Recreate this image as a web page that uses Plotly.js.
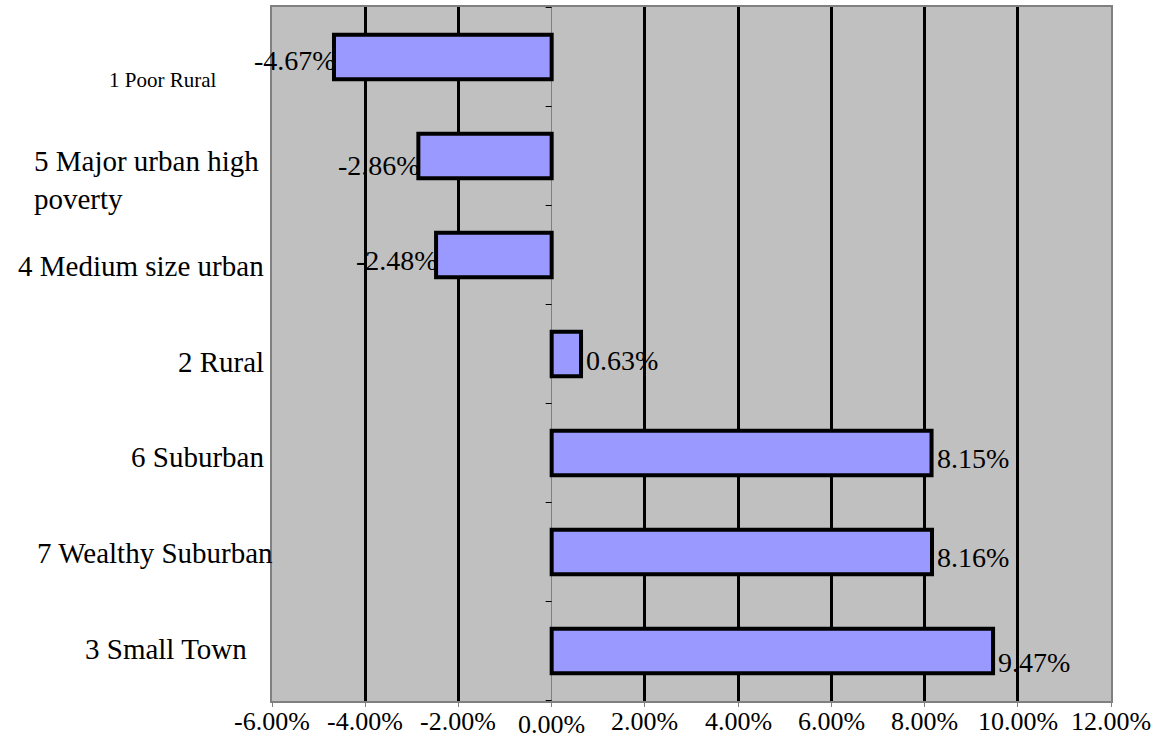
<!DOCTYPE html>
<html>
<head>
<meta charset="utf-8">
<script src="https://cdn.plot.ly/plotly-3.0.1.min.js"></script>
<style>
  html, body { margin: 0; padding: 0; background: #ffffff; }
  #chart { width: 1153px; height: 738px; }
</style>
</head>
<body>
<div id="chart"></div>
<script>
// Change by district type, in percent (top to bottom)
const categories = [
  "1 Poor Rural",
  "5 Major urban high poverty",
  "4 Medium size urban",
  "2 Rural",
  "6 Suburban",
  "7 Wealthy Suburban",
  "3 Small Town"
];
const changePct = [-4.67, -2.86, -2.48, 0.63, 8.15, 8.16, 9.47];
const dataLabels = ["-4.67%", "-2.86%", "-2.48%", "0.63%", "8.15%", "8.16%", "9.47%"];

const tickValues = [-6, -4, -2, 0, 2, 4, 6, 8, 10, 12];
const tickLabels = ["-6.00%", "-4.00%", "-2.00%", "0.00%", "2.00%", "4.00%", "6.00%", "8.00%", "10.00%", "12.00%"];

// Placement of the category names left of the plot
const catLabelStyle = [
  { size: 21, anchor: "right", xshift: -54, yshift: -23 },
  { size: 29, anchor: "left",  xshift: -240, yshift: -24 },
  { size: 29, anchor: "right", xshift: -6,  yshift: -11 },
  { size: 29, anchor: "right", xshift: -6,  yshift: -8 },
  { size: 29, anchor: "right", xshift: -6,  yshift: -4 },
  { size: 29, anchor: "right", xshift: 3,   yshift: -1 },
  { size: 29, anchor: "right", xshift: -23, yshift: 2 }
];
// Vertical nudge of each value label
const valueLabelYShift = [-3, -9, -5, -6, -5, -5, -11];

const serif = "Liberation Serif";

const trace = {
  type: "bar",
  orientation: "h",
  y: categories,
  x: changePct,
  width: 0.45,
  marker: { color: "#9999FF", line: { color: "#000000", width: 4 } },
  hoverinfo: "skip"
};

const annotations = [];

categories.forEach((c, i) => {
  const st = catLabelStyle[i];
  annotations.push({
    xref: "paper", yref: "y",
    x: 0, y: c,
    xanchor: st.anchor, yanchor: "middle",
    align: st.anchor,
    xshift: st.xshift, yshift: st.yshift,
    text: c.replace("high poverty", "high<br>poverty"),
    showarrow: false,
    font: { family: serif, size: st.size, color: "#000000" }
  });
});

changePct.forEach((v, i) => {
  const neg = v < 0;
  annotations.push({
    xref: "x", yref: "y",
    x: v, y: categories[i],
    xanchor: neg ? "right" : "left", yanchor: "middle",
    xshift: neg ? 4 : 3, yshift: valueLabelYShift[i],
    text: dataLabels[i],
    showarrow: false,
    font: { family: serif, size: 28, color: "#000000" }
  });
});

// Value-axis labels under the plot; the zero label sits a little lower
tickValues.forEach((v, i) => {
  annotations.push({
    xref: "x", yref: "paper",
    x: v, y: 0,
    xanchor: "center", yanchor: "middle",
    height: 26, valign: "middle",
    yshift: v === 0 ? -23 : -20,
    text: tickLabels[i],
    showarrow: false,
    font: { family: serif, size: 26, color: "#000000" }
  });
});

// Small marks on the zero line between categories
const shapes = [];
for (let i = 0; i <= categories.length; i++) {
  shapes.push({
    type: "line",
    xref: "x", yref: "y",
    xsizemode: "pixel", xanchor: 0, x0: -6, x1: 0,
    y0: i - 0.5, y1: i - 0.5,
    line: { color: "#000000", width: 1 }
  });
}

const layout = {
  width: 1153, height: 738,
  margin: { l: 272, r: 42, t: 7, b: 37, pad: 0 },
  paper_bgcolor: "#ffffff",
  plot_bgcolor: "#C0C0C0",
  showlegend: false,
  xaxis: {
    range: [-6, 12],
    tickvals: tickValues,
    showticklabels: false,
    ticks: "outside", ticklen: 4, tickwidth: 1, tickcolor: "#808080",
    showgrid: true, gridcolor: "#000000", gridwidth: 3,
    zeroline: true, zerolinecolor: "#808080", zerolinewidth: 1,
    showline: true, linecolor: "#808080", linewidth: 2, mirror: true,
    fixedrange: true
  },
  yaxis: {
    type: "category",
    autorange: "reversed",
    showticklabels: false,
    ticks: "",
    showgrid: false,
    zeroline: false,
    showline: true, linecolor: "#808080", linewidth: 2, mirror: true,
    fixedrange: true
  },
  annotations: annotations,
  shapes: shapes
};

Plotly.newPlot("chart", [trace], layout, { displayModeBar: false, staticPlot: true });
</script>
</body>
</html>
